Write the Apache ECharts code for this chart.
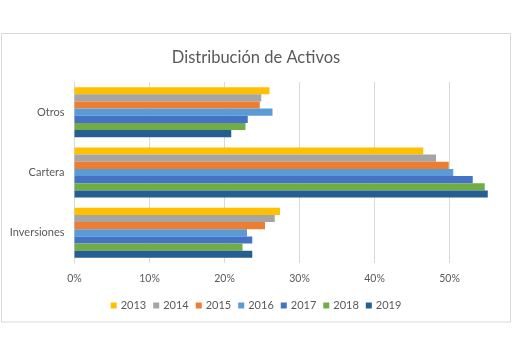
<!DOCTYPE html>
<html><head><meta charset="utf-8">
<script src="https://cdn.jsdelivr.net/npm/echarts@6/dist/echarts.min.js"></script>
<style>html,body{margin:0;padding:0;background:#fff}#c{width:512px;height:341px}</style>
</head><body><div id="c"></div>
<script>
const categories = ['Inversiones', 'Cartera', 'Otros'];
const years = ['2013', '2014', '2015', '2016', '2017', '2018', '2019'];
const v2013 = [0.274, 0.465, 0.260];
const v2014 = [0.267, 0.482, 0.249];
const v2015 = [0.254, 0.499, 0.247];
const v2016 = [0.230, 0.505, 0.264];
const v2017 = [0.237, 0.531, 0.231];
const v2018 = [0.224, 0.547, 0.228];
const v2019 = [0.237, 0.551, 0.209];
const tickValues = [0, 0.1, 0.2, 0.3, 0.4, 0.5];
const colors = ['#FFC000', '#A5A5A5', '#ED7D31', '#5B9BD5', '#4472C4', '#70AD47', '#255E91'];
const values = [v2013, v2014, v2015, v2016, v2017, v2018, v2019];
const font = 'Lato';
const chart = echarts.init(document.getElementById('c'), null, {renderer: 'canvas'});
const gridColors = tickValues.map(() => '#d9d9d9').concat(['rgba(0,0,0,0)']);
chart.setOption({
  animation: false,
  color: colors,
  title: {
    text: 'Distribución de Activos', left: 'center', top: 44,
    textStyle: {fontFamily: font, fontSize: 16.5, fontWeight: 'normal', color: '#595959'}
  },
  graphic: [{type: 'rect', shape: {x: 1.5, y: 33.5, width: 509, height: 288.5},
    style: {fill: 'none', stroke: '#d9d9d9', lineWidth: 1}, z: -1}],
  legend: {
    data: years, top: 295, left: 'center', itemWidth: 6, itemHeight: 6, itemGap: 7,
    icon: 'rect',
    textStyle: {fontFamily: font, fontSize: 11, color: '#595959', padding: [0, 0, 0, -1]}
  },
  grid: {left: 74.5, top: 82, height: 181, width: 414, containLabel: false},
  xAxis: {
    type: 'value', min: 0, max: 0.552, interval: 0.1,
    axisLine: {show: false}, axisTick: {show: false},
    splitLine: {show: true, lineStyle: {color: gridColors, width: 1}},
    axisLabel: {showMaxLabel: false, fontFamily: font, fontSize: 10.5, color: '#595959', margin: 10,
      formatter: v => Math.round(v * 100) + '%'}
  },
  yAxis: {
    type: 'category', data: categories,
    axisLine: {show: true, lineStyle: {color: '#d9d9d9'}}, axisTick: {show: false},
    axisLabel: {fontFamily: font, fontSize: 11, color: '#595959', margin: 10}
  },
  series: years.map((y, i) => ({
    name: y, type: 'bar', data: values[i], barGap: '0%', barCategoryGap: '17%',
    itemStyle: {color: colors[i]}
  }))
});
</script></body></html>
